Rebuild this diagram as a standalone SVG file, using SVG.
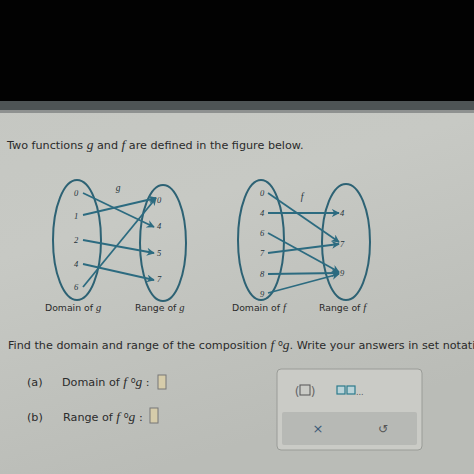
<svg xmlns="http://www.w3.org/2000/svg" width="474" height="474" viewBox="0 0 474 474">
<defs>
<linearGradient id="bg" x1="0" y1="0" x2="0.3" y2="1">
<stop offset="0" stop-color="#c4c6c1"/>
<stop offset="0.5" stop-color="#c7c9c4"/>
<stop offset="1" stop-color="#babcb7"/>
</linearGradient>
<marker id="ah" viewBox="0 0 10 10" refX="9" refY="5" markerWidth="8" markerHeight="8" markerUnits="userSpaceOnUse" orient="auto">
<path d="M0,0 L10,5 L0,10 L3,5 Z" fill="#2c6b80"/>
</marker>
<style>
.body{font-family:"DejaVu Sans","Liberation Sans",sans-serif;font-size:11.2px;fill:#2b2b2b}
.it{font-family:"Liberation Serif",serif;font-style:italic}
.num{font-family:"Liberation Serif",serif;font-style:italic;font-size:8.5px;fill:#26343c}
.lab{font-family:"DejaVu Sans","Liberation Sans",sans-serif;font-size:9.3px;fill:#2b2b2b}
.oval{fill:none;stroke:#2d6274;stroke-width:2}
.arr{stroke:#2c6b80;stroke-width:1.8;fill:none;marker-end:url(#ah)}
.box{fill:#d6ccaa;stroke:#777;stroke-width:1}
</style>
</defs>
<rect x="0" y="0" width="474" height="474" fill="url(#bg)"/>
<rect x="0" y="0" width="474" height="101" fill="#020202"/>
<rect x="0" y="101" width="474" height="9" fill="#4e5455"/>
<rect x="0" y="110" width="474" height="3" fill="#8e9190"/>

<text class="body" x="7" y="149">Two functions <tspan class="it" font-size="13.5">g</tspan> and <tspan class="it" font-size="13.5">f</tspan> are defined in the figure below.</text>

<g id="g-domain">
<ellipse class="oval" cx="77" cy="240" rx="24" ry="60"/>
<text class="num" x="76" y="196" text-anchor="middle">0</text>
<text class="num" x="76" y="219" text-anchor="middle">1</text>
<text class="num" x="76" y="243" text-anchor="middle">2</text>
<text class="num" x="76" y="267" text-anchor="middle">4</text>
<text class="num" x="76" y="290" text-anchor="middle">6</text>
</g>
<g id="g-range">
<ellipse class="oval" cx="163" cy="243" rx="23" ry="58"/>
<text class="num" x="157" y="203">0</text>
<text class="num" x="157" y="229">4</text>
<text class="num" x="157" y="256">5</text>
<text class="num" x="157" y="282">7</text>
</g>
<text class="it" x="118" y="191" font-size="9.5" fill="#26343c" text-anchor="middle">g</text>
<text class="lab" x="45" y="311">Domain of <tspan class="it" font-size="10.5">g</tspan></text>
<text class="lab" x="135" y="311">Range of <tspan class="it" font-size="10.5">g</tspan></text>

<g id="f-domain">
<ellipse class="oval" cx="261" cy="240" rx="23" ry="60"/>
<text class="num" x="262" y="196" text-anchor="middle">0</text>
<text class="num" x="262" y="216" text-anchor="middle">4</text>
<text class="num" x="262" y="236" text-anchor="middle">6</text>
<text class="num" x="262" y="256" text-anchor="middle">7</text>
<text class="num" x="262" y="277" text-anchor="middle">8</text>
<text class="num" x="262" y="297" text-anchor="middle">9</text>
</g>
<g id="f-range">
<ellipse class="oval" cx="346" cy="242" rx="24" ry="58"/>
<text class="num" x="340" y="216">4</text>
<text class="num" x="340" y="247">7</text>
<text class="num" x="340" y="276">9</text>
</g>
<text class="it" x="302" y="200" font-size="9.5" fill="#26343c" text-anchor="middle">f</text>
<text class="lab" x="232" y="311">Domain of <tspan class="it" font-size="10.5">f</tspan></text>
<text class="lab" x="319" y="311">Range of <tspan class="it" font-size="10.5">f</tspan></text>

<g id="connectors">
<line class="arr" x1="83" y1="193" x2="154" y2="227"/>
<line class="arr" x1="83" y1="215" x2="156" y2="198"/>
<line class="arr" x1="83" y1="240" x2="154" y2="253"/>
<line class="arr" x1="83" y1="264" x2="154" y2="280"/>
<line class="arr" x1="83" y1="287" x2="156" y2="198"/>
<line class="arr" x1="268" y1="193" x2="339" y2="242"/>
<line class="arr" x1="268" y1="213" x2="339" y2="213"/>
<line class="arr" x1="268" y1="233" x2="339" y2="272"/>
<line class="arr" x1="268" y1="253" x2="339" y2="244"/>
<line class="arr" x1="268" y1="274" x2="339" y2="273"/>
<line class="arr" x1="268" y1="293" x2="339" y2="274"/>
</g>

<text class="body" x="8" y="349" font-size="10.9">Find the domain and range of the composition <tspan class="it" font-size="13.5">f</tspan> <tspan font-size="8" dy="-3">o</tspan><tspan class="it" font-size="13.5" dy="3">g</tspan>. Write your answers in set notation.</text>

<text class="body" x="27" y="386">(a)</text>
<text class="body" x="62" y="386">Domain of <tspan class="it" font-size="13.5">f</tspan> <tspan font-size="8" dy="-3">o</tspan><tspan class="it" font-size="13.5" dy="3">g</tspan> :</text>
<rect class="box" x="158" y="375" width="8" height="14"/>
<text class="body" x="27" y="421">(b)</text>
<text class="body" x="63" y="421">Range of <tspan class="it" font-size="13.5">f</tspan> <tspan font-size="8" dy="-3">o</tspan><tspan class="it" font-size="13.5" dy="3">g</tspan> :</text>
<rect class="box" x="150" y="408" width="8" height="15"/>

<g id="panel">
<rect x="277" y="369" width="145" height="81" rx="4" fill="#cacbc6" stroke="#9a9c98" stroke-width="1"/>
<rect x="282" y="412" width="135" height="33" rx="2" fill="#b7b9b5"/>
<text x="297" y="396" font-family="DejaVu Sans, sans-serif" font-size="12" fill="#666" text-anchor="middle">(</text>
<text x="313" y="396" font-family="DejaVu Sans, sans-serif" font-size="12" fill="#666" text-anchor="middle">)</text>
<rect x="300" y="385" width="10" height="10" fill="none" stroke="#555" stroke-width="1"/>
<rect x="337" y="386" width="8" height="8" fill="#b9d3d8" stroke="#2b7b8c" stroke-width="1.2"/>
<rect x="347" y="386" width="8" height="8" fill="#b9d3d8" stroke="#2b7b8c" stroke-width="1.2"/>
<text x="356" y="395" font-family="DejaVu Sans, sans-serif" font-size="8" fill="#555">...</text>
<text x="318" y="433" font-family="DejaVu Sans, sans-serif" font-size="13" fill="#3d5a78" text-anchor="middle">×</text>
<text x="383" y="433" font-family="DejaVu Sans, sans-serif" font-size="12" fill="#555" text-anchor="middle">↺</text>
</g>
</svg>
